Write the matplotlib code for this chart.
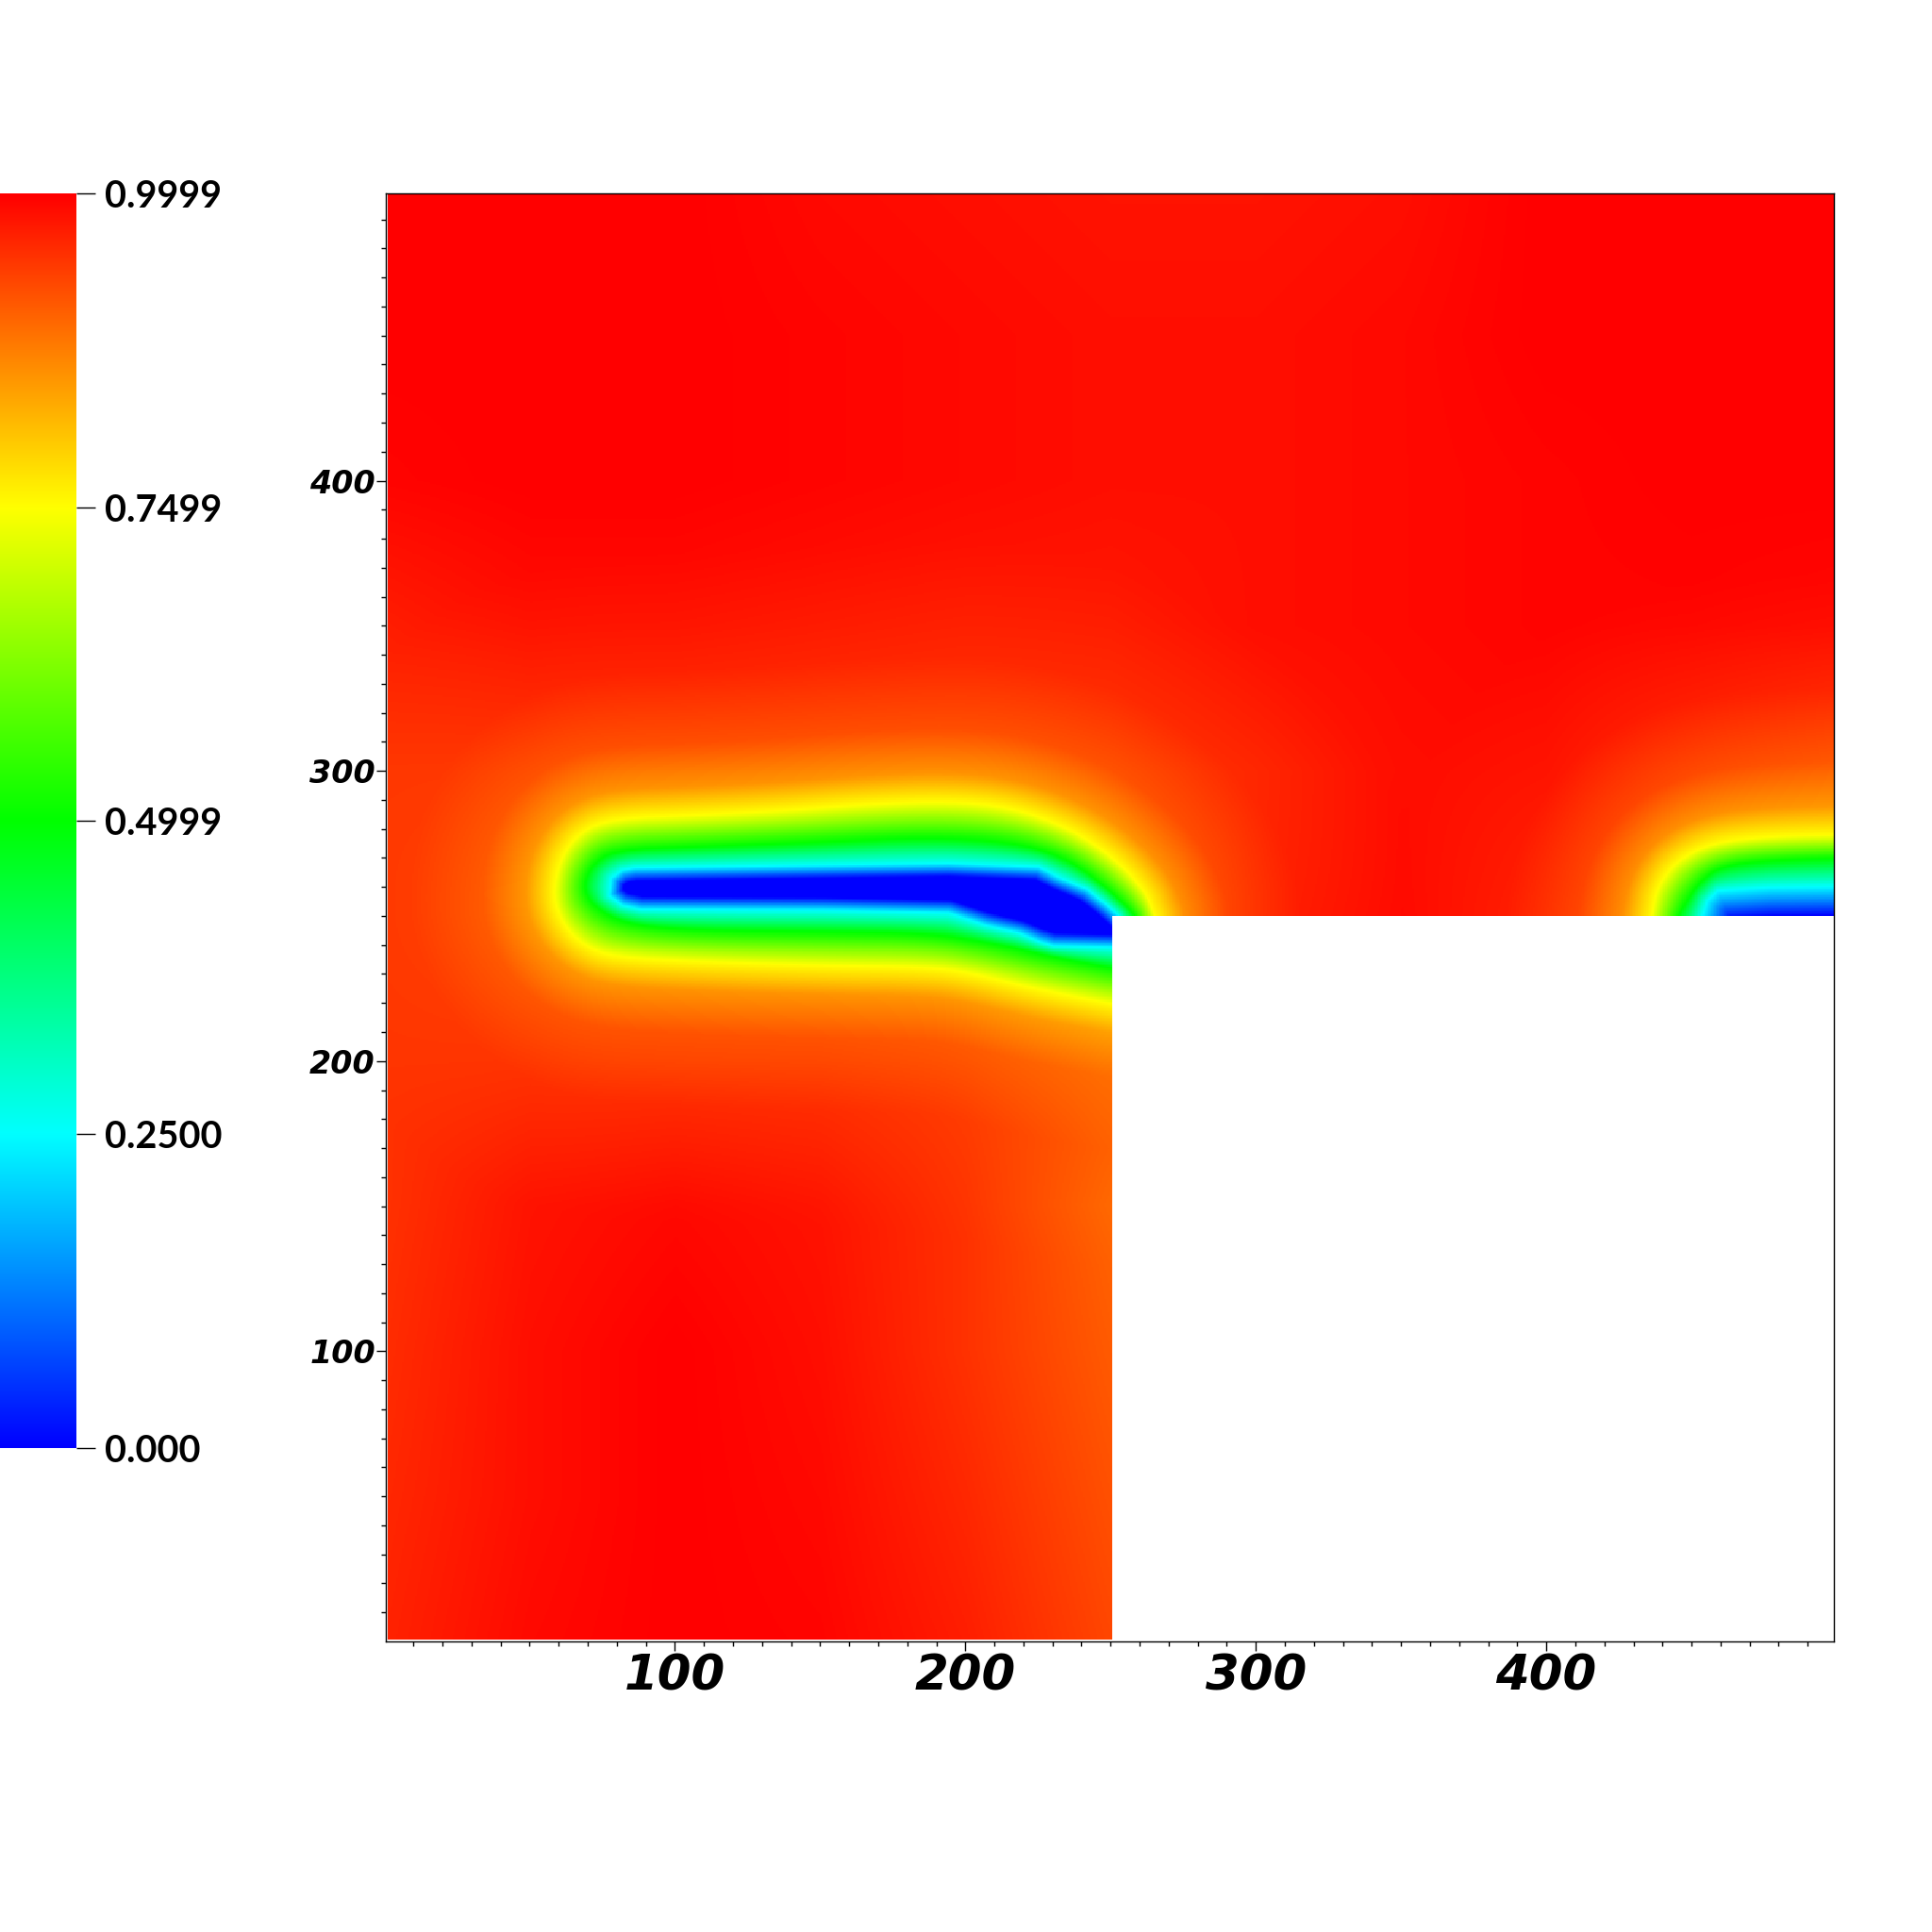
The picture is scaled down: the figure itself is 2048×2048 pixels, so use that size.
import numpy as np
import matplotlib
matplotlib.use("Agg")
import matplotlib.pyplot as plt
from matplotlib.colors import LinearSegmentedColormap
from matplotlib.path import Path

# colour scale
cb_ticks = [0.0, 0.25, 0.4999, 0.7499, 0.9999]
cb_labels = ["0.000", "0.2500", "0.4999", "0.7499", "0.9999"]
scale_colors = ["#0000ff", "#00ffff", "#00ff00", "#ffff00", "#ff0000"]

# axis ticks
major_ticks = [100, 200, 300, 400]
minor_ticks = [v for v in range(10, 499, 10) if v % 100]

# notch (no data)
notch_x = 250
notch_y = 250

# far-field values read on a coarse grid
bg_x = [0, 50, 100, 150, 200, 250, 300, 350, 400, 450, 500]
bg_y = [0, 50, 100, 150, 200, 250, 300, 350, 400, 450, 500]
bg_0 = [.965, .99, 1.0, .995, .97, .93, .95, .95, .95, .95, .95]
bg_50 = [.96, .985, 1.0, .99, .96, .92, .95, .95, .95, .95, .95]
bg_100 = [.955, .985, 1.0, .985, .95, .91, .95, .95, .95, .95, .95]
bg_150 = [.95, .98, .99, .98, .95, .90, .95, .95, .95, .95, .95]
bg_200 = [.95, .96, .96, .96, .95, .93, .95, .95, .95, .95, .95]
bg_250 = [.95, .95, .96, .96, .96, .96, .98, .99, .98, .96, .95]
bg_300 = [.95, .96, .96, .96, .96, .96, .97, .985, .99, .97, .95]
bg_350 = [.97, .985, .985, .98, .975, .975, .985, .99, .995, .995, .99]
bg_400 = [.995, 1.0, 1.0, .995, .99, .985, .985, .99, .995, 1.0, 1.0]
bg_450 = [1.0, 1.0, 1.0, .995, .99, .985, .985, .99, 1.0, 1.0, 1.0]
bg_500 = [1.0, 1.0, 1.0, .99, .985, .98, .98, .985, 1.0, 1.0, 1.0]

# decay outside the yellow contour: distance vs fraction to far-field
decay_d = [0, 10, 25, 50, 90]
decay_f = [0.0, 0.5, 0.8, 0.95, 1.0]

# left crack: contours at 0.25, 0.5, 0.75
c1_cyan = [(250, 238.9), (230, 239.4), (225, 241), (218.5, 243.8), (207, 246.5), (194, 250.8),
           (150.7, 251.7), (88, 252), (81.5, 253.5), (77.2, 256.8), (77.9, 262.8), (81.4, 265.5),
           (85.8, 266.4), (150.7, 267.3), (194, 267.9), (225, 266.7), (231.5, 263.3), (241.6, 259),
           (248, 254), (252.4, 250)]
c1_green = [(250, 231.8), (230, 235.6), (208.4, 240.5), (186.8, 243.8), (150.7, 244.3), (107.5, 244.8),
            (85.8, 246.5), (74.3, 250.8), (67.8, 258.4), (70.7, 267), (78.6, 272.5), (107.5, 273.6),
            (150.7, 275.2), (186.8, 276.9), (215.6, 275.2), (232.9, 270.4), (244.4, 262.8),
            (254.5, 254), (258, 250)]
c1_yellow = [(250, 219.5), (222.8, 224.8), (201.2, 230.2), (186.8, 232.1), (150.7, 232.6), (107.5, 234),
             (78.6, 235.6), (68.5, 239.4), (61.3, 246.5), (57.7, 256.2), (59.9, 269.3), (67.1, 279),
             (78.6, 283.4), (107.5, 284.5), (136.3, 286), (165, 288.3), (194, 289.4), (215.6, 287.2),
             (235.8, 280), (251.6, 269.3), (261.7, 258.4), (265, 250)]
c1_close = [(275, 215)]
c1_inner = 4.5

# right crack
c2_cyan = [(453.7, 250), (455.3, 255), (459, 258.4), (477, 259.6), (510, 260)]
c2_green = [(445.6, 250), (448.2, 255), (453.2, 262), (460.3, 267), (477, 269), (510, 270)]
c2_yellow = [(436.2, 250), (438, 259.6), (444.5, 268.7), (456.9, 275), (477, 277.3), (510, 277.8)]
c2_close = [(520, 200), (425, 200)]
c2_inner = 10.0


def rounded(line, passes=2):
    pts = np.array(line, float)
    for _ in range(passes):
        mid = np.empty((2 * (len(pts) - 1), 2))
        mid[0::2] = 0.75 * pts[:-1] + 0.25 * pts[1:]
        mid[1::2] = 0.25 * pts[:-1] + 0.75 * pts[1:]
        pts = np.vstack([pts[:1], mid, pts[-1:]])
    return pts


def signed_distance(line, close, X, Y):
    pts = np.array(line, float)
    best = np.full(X.shape, np.inf)
    for a, b in zip(pts[:-1], pts[1:]):
        ab = b - a
        t = np.clip(((X - a[0]) * ab[0] + (Y - a[1]) * ab[1]) / (ab @ ab), 0, 1)
        best = np.minimum(best, (X - a[0] - t * ab[0]) ** 2 + (Y - a[1] - t * ab[1]) ** 2)
    best = np.sqrt(best)
    poly = Path(np.vstack([pts, np.array(close, float), pts[:1]]))
    inside = poly.contains_points(np.c_[X.ravel(), Y.ravel()]).reshape(X.shape)
    return np.where(inside, -best, best)


def crack_value(cyan, green, yellow, close, inner, bg, X, Y):
    sc = signed_distance(cyan, close, X, Y)
    sg = signed_distance(rounded(green), close, X, Y)
    sy = signed_distance(rounded(yellow), close, X, Y)
    v = .75 + (bg - .75) * np.interp(sy, decay_d, decay_f)
    band2 = sy <= 0
    v[band2] = (.5 + .25 * sg / np.maximum(sg - sy, 1e-6))[band2]
    band1 = sg <= 0
    v[band1] = (.25 + .25 * sc / np.maximum(sc - sg, 1e-6))[band1]
    core = sc <= 0
    v[core] = (.25 * (1 - np.clip(-sc / inner, 0, 1)))[core]
    return v


# grid and far-field
xs = np.arange(1.0, 499.01, 0.5)
ys = np.arange(0.5, 499.01, 0.5)
X, Y = np.meshgrid(xs, ys)
bg_rows = np.array([bg_0, bg_50, bg_100, bg_150, bg_200, bg_250, bg_300, bg_350, bg_400, bg_450, bg_500])
bg_cols = np.array([np.interp(ys, bg_y, bg_rows[:, j]) for j in range(len(bg_x))]).T
bg = np.array([np.interp(xs, bg_x, row) for row in bg_cols])

field = np.minimum(
    crack_value(c1_cyan, c1_green, c1_yellow, c1_close, c1_inner, bg, X, Y),
    crack_value(c2_cyan, c2_green, c2_yellow, c2_close, c2_inner, bg, X, Y),
)
field = np.ma.masked_where((X > notch_x) & (Y < notch_y), field)

cmap = LinearSegmentedColormap.from_list("phase", scale_colors, N=512)
cmap.set_bad("white")

W = 2048
fig = plt.figure(figsize=(20.48, 20.48), dpi=100, facecolor="white")
ax = fig.add_axes([409 / W, (W - 1740) / W, 1535 / W, 1535 / W])
ax.imshow(field, origin="lower", cmap=cmap, vmin=0, vmax=1, aspect="auto", interpolation="nearest",
          extent=(xs[0], xs[-1], ys[0], ys[-1]))
ax.set_xlim(0.5, 499)
ax.set_ylim(0, 499)
ax.set_xticks(major_ticks)
ax.set_yticks(major_ticks)
ax.set_xticks(minor_ticks, minor=True)
ax.set_yticks(minor_ticks, minor=True)
ax.tick_params(axis="x", which="major", length=7.2, width=1, pad=2)
ax.tick_params(axis="y", which="major", length=7, width=1, pad=1)
ax.tick_params(which="minor", length=3.4, width=1)
for s in ax.spines.values():
    s.set_linewidth(1)
for lab in ax.get_xticklabels():
    lab.set(family="DejaVu Sans", weight="bold", style="oblique", fontsize=37)
for lab in ax.get_yticklabels():
    lab.set(family="DejaVu Sans", weight="bold", style="oblique", fontsize=24)

cax = fig.add_axes([0, (W - 1535) / W, 81 / W, 1330 / W])
grad = np.linspace(0, 1, 512).reshape(-1, 1)
cax.imshow(grad, origin="lower", cmap=cmap, aspect="auto", extent=(0, 1, 0, cb_ticks[-1]))
cax.set_xticks([])
cax.set_yticks(cb_ticks)
cax.set_yticklabels(cb_labels, family="Lato", weight="bold", fontsize=28.5)
cax.yaxis.tick_right()
cax.tick_params(axis="y", length=14.4, width=1, pad=7)
for s in cax.spines.values():
    s.set_visible(False)

fig.savefig("out.png", dpi=100, facecolor="white")
